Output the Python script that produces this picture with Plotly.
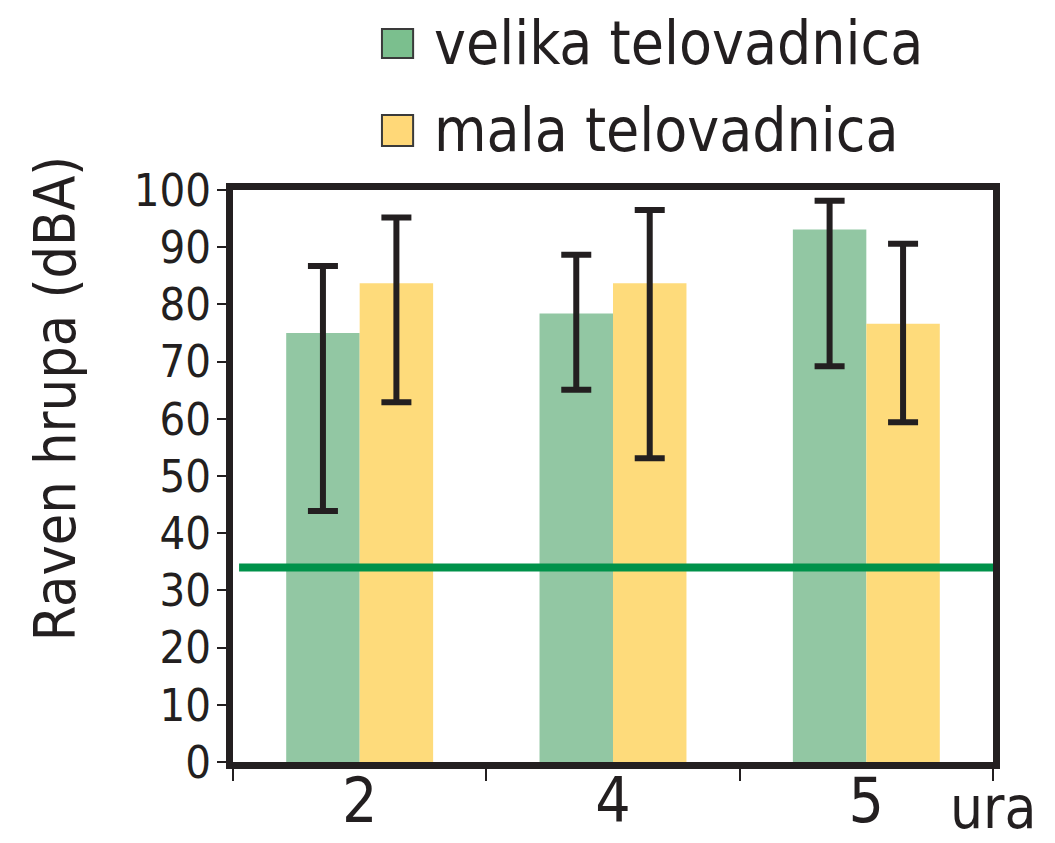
import plotly.graph_objects as go

# ---- data ----
categories = ["2", "4", "5"]
series_names = ["velika telovadnica", "mala telovadnica"]
velika = [75.0, 78.4, 93.1]
velika_hi = [86.7, 88.7, 98.1]
velika_lo = [43.9, 65.1, 69.2]
mala = [83.7, 83.7, 76.6]
mala_hi = [95.2, 96.5, 90.6]
mala_lo = [62.9, 53.1, 59.4]
threshold = 34
y_ticks = [0, 10, 20, 30, 40, 50, 60, 70, 80, 90, 100]
y_title = "Raven hrupa (dBA)"
x_unit = "ura"

FONT = "Liberation Sans Narrow, Arial Narrow, DejaVu Sans Condensed, sans-serif"
INK = "#231f20"
GREEN = "#92c7a3"
YELLOW = "#fedb7b"
LEG_GREEN = "#7bbf8e"
LEG_YELLOW = "#ffd878"

def err(vals, hi, lo):
    return ([h - v for v, h in zip(vals, hi)], [v - l for v, l in zip(vals, lo)])

fig = go.Figure()
for name, vals, hi, lo, col in [
    (series_names[0], velika, velika_hi, velika_lo, GREEN),
    (series_names[1], mala, mala_hi, mala_lo, YELLOW),
]:
    up, down = err(vals, hi, lo)
    fig.add_trace(go.Bar(
        x=categories, y=vals, name=name,
        marker=dict(color=col, line=dict(width=0)),
        error_y=dict(type="data", symmetric=False, array=up, arrayminus=down,
                     color=INK, thickness=6, width=15),
        showlegend=False,
    ))

fig.add_shape(type="line", xref="x domain", yref="y",
              x0=0.008, x1=1, y0=threshold, y1=threshold,
              line=dict(color="#00924a", width=8), layer="above")

# manual legend (large swatches)
legend_rows = [(series_names[0], LEG_GREEN, 1.2815, 1.2308, 1.257),
               (series_names[1], LEG_YELLOW, 1.131, 1.077, 1.105)]
for text, col, ytop, ybot, ymid in legend_rows:
    fig.add_shape(type="rect", xref="paper", yref="paper",
                  x0=0.196, x1=0.237, y0=ybot, y1=ytop,
                  fillcolor=col, line=dict(color="#3a3a3a", width=2))
    fig.add_annotation(text=text, xref="paper", yref="paper", x=0.2618, y=ymid,
                       xanchor="left", yanchor="middle", showarrow=False,
                       font=dict(family=FONT, size=60, color=INK))

fig.add_annotation(text=y_title, xref="paper", yref="paper", x=-0.234, y=0.636,
                   textangle=-90, xanchor="center", yanchor="middle", showarrow=False,
                   font=dict(family=FONT, size=57, color=INK))
fig.add_annotation(text=x_unit, xref="paper", yref="paper", x=1.06, y=-0.081,
                   xanchor="right", yanchor="middle", showarrow=False,
                   font=dict(family=FONT, size=58, color=INK))

# page body has an 8px margin: compensate so the plot lands where the reference has it
fig.update_layout(
    width=1039, height=835,
    margin=dict(l=225, r=54, t=182, b=81),
    paper_bgcolor="white", plot_bgcolor="white",
    barmode="group", bargap=0.42, bargroupgap=0,
    font=dict(family=FONT, color=INK),
    showlegend=False,
)
fig.update_xaxes(
    type="category", automargin=False, showline=True, linewidth=7, linecolor=INK, mirror=True,
    ticks="outside", tickson="boundaries", ticklen=12, tickwidth=2, tickcolor=INK,
    ticklabelstandoff=-21,
    tickfont=dict(family=FONT, size=62, color=INK), showgrid=False, zeroline=False,
)
fig.update_yaxes(
    range=[0, 100], tickvals=y_ticks, automargin=False, showline=True, linewidth=7,
    linecolor=INK, mirror=True,
    ticks="outside", ticklen=9, tickwidth=2, tickcolor=INK, ticklabelstandoff=-3,
    tickfont=dict(family=FONT, size=45, color=INK), showgrid=False, zeroline=False,
)

fig.write_html("out.html")
